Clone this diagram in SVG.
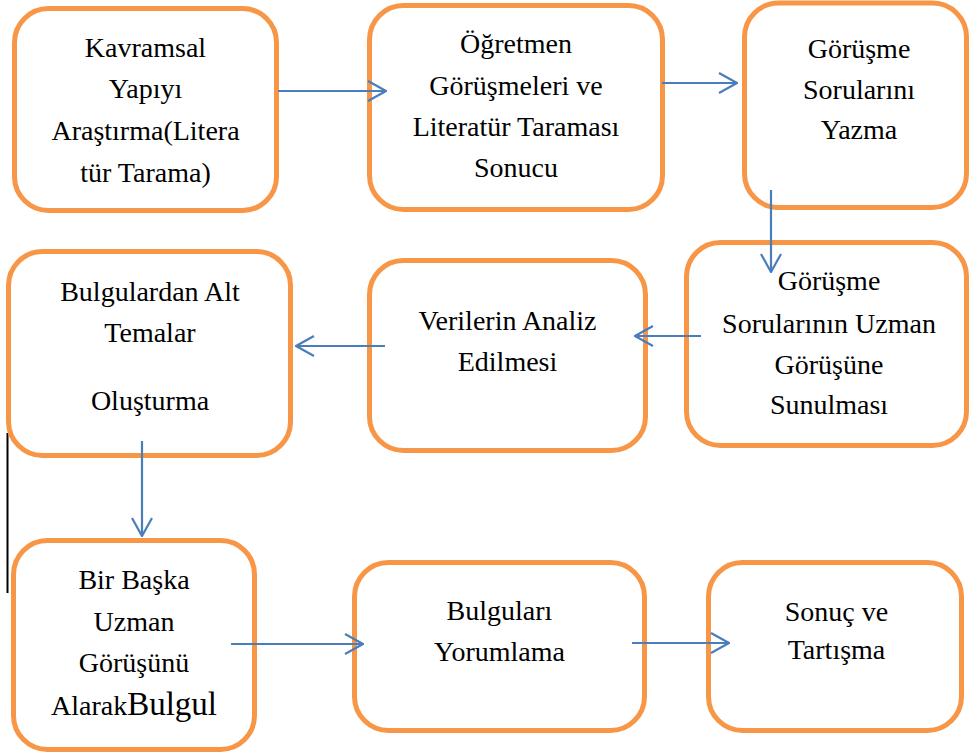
<svg xmlns="http://www.w3.org/2000/svg" width="969" height="753" viewBox="0 0 969 753">
<defs>
<style>
.box{fill:#ffffff;stroke:#F79646;stroke-width:5}
.t{font-size:28px;fill:#000000;text-anchor:middle}
.big{font-size:33px}
.c{stroke:#4A7EBB;stroke-width:2.2;fill:none}
</style>
<marker id="ah" viewBox="0 0 20 22" refX="19" refY="11" markerWidth="20" markerHeight="22" markerUnits="userSpaceOnUse" orient="auto">
<path d="M1,1 L19,11 L1,21" fill="none" stroke="#4A7EBB" stroke-width="2.2"/>
</marker>
</defs>
<rect width="969" height="753" fill="#ffffff"/>
<line x1="7.5" y1="433" x2="7.5" y2="593" stroke="#000000" stroke-width="2"/>
<g font-family="'Liberation Serif', 'Times New Roman', serif">
<g id="n1">
<rect class="box" x="14.5" y="8.5" width="262" height="202" rx="34"/>
<text class="t" x="145.5" y="57">Kavramsal</text>
<text class="t" x="145.5" y="98">Yapıyı</text>
<text class="t" x="145.5" y="140">Araştırma(Litera</text>
<text class="t" x="145.5" y="182">tür Tarama)</text>
</g>
<g id="n2">
<rect class="box" x="369.5" y="5.5" width="293" height="204" rx="34"/>
<text class="t" x="516" y="53">Öğretmen</text>
<text class="t" x="516" y="95">Görüşmeleri ve</text>
<text class="t" x="516" y="136">Literatür Taraması</text>
<text class="t" x="516" y="177">Sonucu</text>
</g>
<g id="n3">
<rect class="box" x="744.5" y="3" width="222" height="204.5" rx="34"/>
<text class="t" x="859" y="58">Görüşme</text>
<text class="t" x="859" y="99">Sorularını</text>
<text class="t" x="859" y="139">Yazma</text>
</g>
<g id="n4">
<rect class="box" x="686.5" y="242.5" width="280" height="203" rx="34"/>
<text class="t" x="829" y="290">Görüşme</text>
<text class="t" x="829" y="333">Sorularının Uzman</text>
<text class="t" x="829" y="374">Görüşüne</text>
<text class="t" x="829" y="414">Sunulması</text>
</g>
<g id="n5">
<rect class="box" x="369.5" y="260.5" width="276" height="190" rx="34"/>
<text class="t" x="507.5" y="330">Verilerin Analiz</text>
<text class="t" x="507.5" y="371">Edilmesi</text>
</g>
<g id="n6">
<rect class="box" x="8.5" y="251.5" width="282" height="204" rx="34"/>
<text class="t" x="150" y="301">Bulgulardan Alt</text>
<text class="t" x="150" y="342">Temalar</text>
<text class="t" x="150" y="410">Oluşturma</text>
</g>
<g id="n7">
<rect class="box" x="13.5" y="540.5" width="241" height="209" rx="34"/>
<text class="t" x="134" y="589">Bir Başka</text>
<text class="t" x="134" y="631">Uzman</text>
<text class="t" x="134" y="672">Görüşünü</text>
<text class="t" x="134" y="715">Alarak<tspan class="big">Bulgul</tspan></text>
</g>
<g id="n8">
<rect class="box" x="354.5" y="562.5" width="290" height="168" rx="34"/>
<text class="t" x="499.5" y="620">Bulguları</text>
<text class="t" x="499.5" y="661">Yorumlama</text>
</g>
<g id="n9">
<rect class="box" x="708.5" y="562.5" width="253" height="168" rx="34"/>
<text class="t" x="836.5" y="621">Sonuç ve</text>
<text class="t" x="836.5" y="659">Tartışma</text>
</g>
</g>
<g id="connectors">
<line class="c" x1="278" y1="91" x2="386" y2="91" marker-end="url(#ah)"/>
<line class="c" x1="662" y1="83" x2="737" y2="83" marker-end="url(#ah)"/>
<line class="c" x1="771" y1="190" x2="771" y2="272" marker-end="url(#ah)"/>
<line class="c" x1="701" y1="336" x2="635" y2="336" marker-end="url(#ah)"/>
<line class="c" x1="385" y1="346" x2="296" y2="346" marker-end="url(#ah)"/>
<line class="c" x1="142" y1="441" x2="142" y2="536" marker-end="url(#ah)"/>
<line class="c" x1="231" y1="644" x2="363" y2="644" marker-end="url(#ah)"/>
<line class="c" x1="632" y1="643" x2="729" y2="643" marker-end="url(#ah)"/>
</g>
</svg>
